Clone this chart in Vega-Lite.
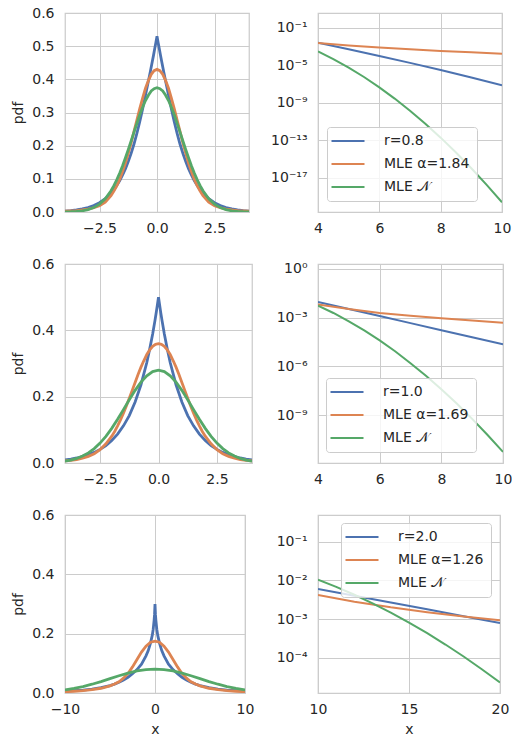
{
  "$schema": "https://vega.github.io/schema/vega-lite/v6.json",
  "padding": {"left": 11, "top": 5, "right": 0, "bottom": 0},
  "config": {
    "font": "DejaVu Sans",
    "view": {"stroke": "#cccccc", "strokeWidth": 1.25},
    "axis": {"domain": false, "ticks": false, "grid": true, "gridColor": "#cccccc", "gridWidth": 1, "labelFont": "DejaVu Sans", "labelFontSize": 14, "labelColor": "#262626", "titleFont": "DejaVu Sans", "titleFontSize": 14, "titleFontWeight": "normal", "titleColor": "#262626", "labelFlush": false, "labelOverlap": false, "labelBound": false},
    "axisX": {"labelPadding": 9, "titlePadding": 6},
    "axisY": {"labelPadding": 11, "titlePadding": 6},
    "legend": {"labelFont": "DejaVu Sans", "labelFontSize": 14, "labelColor": "#262626", "symbolType": "M-3,0H3", "symbolSize": 121, "symbolStrokeWidth": 2.2, "symbolOffset": 7, "labelOffset": 29, "padding": 7, "rowPadding": 9, "fillColor": "rgba(255,255,255,0.8)", "strokeColor": "#cccccc", "cornerRadius": 3}
  },
  "datasets": {
    "d": [
      {"p":"1L","s":"r=0.8","x":-4,"y":0.0027},{"p":"1L","s":"r=0.8","x":-3.75,"y":0.0041},{"p":"1L","s":"r=0.8","x":-3.5,"y":0.0062},{"p":"1L","s":"r=0.8","x":-3.25,"y":0.0092},{"p":"1L","s":"r=0.8","x":-3,"y":0.0135},{"p":"1L","s":"r=0.8","x":-2.75,"y":0.0195},{"p":"1L","s":"r=0.8","x":-2.5,"y":0.028},{"p":"1L","s":"r=0.8","x":-2.25,"y":0.04},{"p":"1L","s":"r=0.8","x":-2,"y":0.057},{"p":"1L","s":"r=0.8","x":-1.875,"y":0.067},{"p":"1L","s":"r=0.8","x":-1.75,"y":0.08},{"p":"1L","s":"r=0.8","x":-1.625,"y":0.094},{"p":"1L","s":"r=0.8","x":-1.5,"y":0.111},{"p":"1L","s":"r=0.8","x":-1.375,"y":0.13},{"p":"1L","s":"r=0.8","x":-1.25,"y":0.152},{"p":"1L","s":"r=0.8","x":-1.125,"y":0.177},{"p":"1L","s":"r=0.8","x":-1,"y":0.205},{"p":"1L","s":"r=0.8","x":-0.875,"y":0.237},{"p":"1L","s":"r=0.8","x":-0.75,"y":0.272},{"p":"1L","s":"r=0.8","x":-0.625,"y":0.311},{"p":"1L","s":"r=0.8","x":-0.5,"y":0.353},{"p":"1L","s":"r=0.8","x":-0.4,"y":0.386},{"p":"1L","s":"r=0.8","x":-0.3,"y":0.42},{"p":"1L","s":"r=0.8","x":-0.2,"y":0.455},{"p":"1L","s":"r=0.8","x":-0.15,"y":0.473},{"p":"1L","s":"r=0.8","x":-0.1,"y":0.492},{"p":"1L","s":"r=0.8","x":-0.05,"y":0.51},{"p":"1L","s":"r=0.8","x":0,"y":0.53},
      {"p":"1L","s":"r=0.8","x":0.05,"y":0.51},{"p":"1L","s":"r=0.8","x":0.1,"y":0.492},{"p":"1L","s":"r=0.8","x":0.15,"y":0.473},{"p":"1L","s":"r=0.8","x":0.2,"y":0.455},{"p":"1L","s":"r=0.8","x":0.3,"y":0.42},{"p":"1L","s":"r=0.8","x":0.4,"y":0.386},{"p":"1L","s":"r=0.8","x":0.5,"y":0.353},{"p":"1L","s":"r=0.8","x":0.625,"y":0.311},{"p":"1L","s":"r=0.8","x":0.75,"y":0.272},{"p":"1L","s":"r=0.8","x":0.875,"y":0.237},{"p":"1L","s":"r=0.8","x":1,"y":0.205},{"p":"1L","s":"r=0.8","x":1.125,"y":0.177},{"p":"1L","s":"r=0.8","x":1.25,"y":0.152},{"p":"1L","s":"r=0.8","x":1.375,"y":0.13},{"p":"1L","s":"r=0.8","x":1.5,"y":0.111},{"p":"1L","s":"r=0.8","x":1.625,"y":0.094},{"p":"1L","s":"r=0.8","x":1.75,"y":0.08},{"p":"1L","s":"r=0.8","x":1.875,"y":0.067},{"p":"1L","s":"r=0.8","x":2,"y":0.057},{"p":"1L","s":"r=0.8","x":2.25,"y":0.04},{"p":"1L","s":"r=0.8","x":2.5,"y":0.028},{"p":"1L","s":"r=0.8","x":2.75,"y":0.0195},{"p":"1L","s":"r=0.8","x":3,"y":0.0135},{"p":"1L","s":"r=0.8","x":3.25,"y":0.0092},{"p":"1L","s":"r=0.8","x":3.5,"y":0.0062},{"p":"1L","s":"r=0.8","x":3.75,"y":0.0041},{"p":"1L","s":"r=0.8","x":4,"y":0.0027},
      {"p":"1L","s":"MLE α=1.84","x":-4,"y":0.0026},{"p":"1L","s":"MLE α=1.84","x":-3.75,"y":0.0033},{"p":"1L","s":"MLE α=1.84","x":-3.5,"y":0.0043},{"p":"1L","s":"MLE α=1.84","x":-3.25,"y":0.006},{"p":"1L","s":"MLE α=1.84","x":-3,"y":0.0085},{"p":"1L","s":"MLE α=1.84","x":-2.75,"y":0.0128},{"p":"1L","s":"MLE α=1.84","x":-2.5,"y":0.019},{"p":"1L","s":"MLE α=1.84","x":-2.25,"y":0.03},{"p":"1L","s":"MLE α=1.84","x":-2,"y":0.049},{"p":"1L","s":"MLE α=1.84","x":-1.875,"y":0.063},{"p":"1L","s":"MLE α=1.84","x":-1.75,"y":0.079},{"p":"1L","s":"MLE α=1.84","x":-1.625,"y":0.098},{"p":"1L","s":"MLE α=1.84","x":-1.5,"y":0.121},{"p":"1L","s":"MLE α=1.84","x":-1.375,"y":0.147},{"p":"1L","s":"MLE α=1.84","x":-1.25,"y":0.177},{"p":"1L","s":"MLE α=1.84","x":-1.125,"y":0.208},{"p":"1L","s":"MLE α=1.84","x":-1,"y":0.243},{"p":"1L","s":"MLE α=1.84","x":-0.875,"y":0.277},{"p":"1L","s":"MLE α=1.84","x":-0.75,"y":0.312},{"p":"1L","s":"MLE α=1.84","x":-0.625,"y":0.343},{"p":"1L","s":"MLE α=1.84","x":-0.5,"y":0.373},{"p":"1L","s":"MLE α=1.84","x":-0.375,"y":0.396},{"p":"1L","s":"MLE α=1.84","x":-0.25,"y":0.415},{"p":"1L","s":"MLE α=1.84","x":-0.125,"y":0.426},{"p":"1L","s":"MLE α=1.84","x":0,"y":0.43},
      {"p":"1L","s":"MLE α=1.84","x":0.125,"y":0.426},{"p":"1L","s":"MLE α=1.84","x":0.25,"y":0.415},{"p":"1L","s":"MLE α=1.84","x":0.375,"y":0.396},{"p":"1L","s":"MLE α=1.84","x":0.5,"y":0.373},{"p":"1L","s":"MLE α=1.84","x":0.625,"y":0.343},{"p":"1L","s":"MLE α=1.84","x":0.75,"y":0.312},{"p":"1L","s":"MLE α=1.84","x":0.875,"y":0.277},{"p":"1L","s":"MLE α=1.84","x":1,"y":0.243},{"p":"1L","s":"MLE α=1.84","x":1.125,"y":0.208},{"p":"1L","s":"MLE α=1.84","x":1.25,"y":0.177},{"p":"1L","s":"MLE α=1.84","x":1.375,"y":0.147},{"p":"1L","s":"MLE α=1.84","x":1.5,"y":0.121},{"p":"1L","s":"MLE α=1.84","x":1.625,"y":0.098},{"p":"1L","s":"MLE α=1.84","x":1.75,"y":0.079},{"p":"1L","s":"MLE α=1.84","x":1.875,"y":0.063},{"p":"1L","s":"MLE α=1.84","x":2,"y":0.049},{"p":"1L","s":"MLE α=1.84","x":2.25,"y":0.03},{"p":"1L","s":"MLE α=1.84","x":2.5,"y":0.019},{"p":"1L","s":"MLE α=1.84","x":2.75,"y":0.0128},{"p":"1L","s":"MLE α=1.84","x":3,"y":0.0085},{"p":"1L","s":"MLE α=1.84","x":3.25,"y":0.006},{"p":"1L","s":"MLE α=1.84","x":3.5,"y":0.0043},{"p":"1L","s":"MLE α=1.84","x":3.75,"y":0.0033},{"p":"1L","s":"MLE α=1.84","x":4,"y":0.0026},
      {"p":"1L","s":"MLE 𝒩","x":-4,"y":0.00032},{"p":"1L","s":"MLE 𝒩","x":-3.75,"y":0.00075},{"p":"1L","s":"MLE 𝒩","x":-3.5,"y":0.00168},{"p":"1L","s":"MLE 𝒩","x":-3.25,"y":0.00353},{"p":"1L","s":"MLE 𝒩","x":-3,"y":0.00704},{"p":"1L","s":"MLE 𝒩","x":-2.75,"y":0.0133},{"p":"1L","s":"MLE 𝒩","x":-2.5,"y":0.0237},{"p":"1L","s":"MLE 𝒩","x":-2.25,"y":0.0401},{"p":"1L","s":"MLE 𝒩","x":-2,"y":0.0641},{"p":"1L","s":"MLE 𝒩","x":-1.875,"y":0.0794},{"p":"1L","s":"MLE 𝒩","x":-1.75,"y":0.0969},{"p":"1L","s":"MLE 𝒩","x":-1.625,"y":0.117},{"p":"1L","s":"MLE 𝒩","x":-1.5,"y":0.139},{"p":"1L","s":"MLE 𝒩","x":-1.375,"y":0.163},{"p":"1L","s":"MLE 𝒩","x":-1.25,"y":0.188},{"p":"1L","s":"MLE 𝒩","x":-1.125,"y":0.214},{"p":"1L","s":"MLE 𝒩","x":-1,"y":0.241},{"p":"1L","s":"MLE 𝒩","x":-0.875,"y":0.267},{"p":"1L","s":"MLE 𝒩","x":-0.75,"y":0.293},{"p":"1L","s":"MLE 𝒩","x":-0.625,"y":0.316},{"p":"1L","s":"MLE 𝒩","x":-0.5,"y":0.336},{"p":"1L","s":"MLE 𝒩","x":-0.375,"y":0.352},{"p":"1L","s":"MLE 𝒩","x":-0.25,"y":0.365},{"p":"1L","s":"MLE 𝒩","x":-0.125,"y":0.372},{"p":"1L","s":"MLE 𝒩","x":0,"y":0.375},
      {"p":"1L","s":"MLE 𝒩","x":0.125,"y":0.372},{"p":"1L","s":"MLE 𝒩","x":0.25,"y":0.365},{"p":"1L","s":"MLE 𝒩","x":0.375,"y":0.352},{"p":"1L","s":"MLE 𝒩","x":0.5,"y":0.336},{"p":"1L","s":"MLE 𝒩","x":0.625,"y":0.316},{"p":"1L","s":"MLE 𝒩","x":0.75,"y":0.293},{"p":"1L","s":"MLE 𝒩","x":0.875,"y":0.267},{"p":"1L","s":"MLE 𝒩","x":1,"y":0.241},{"p":"1L","s":"MLE 𝒩","x":1.125,"y":0.214},{"p":"1L","s":"MLE 𝒩","x":1.25,"y":0.188},{"p":"1L","s":"MLE 𝒩","x":1.375,"y":0.163},{"p":"1L","s":"MLE 𝒩","x":1.5,"y":0.139},{"p":"1L","s":"MLE 𝒩","x":1.625,"y":0.117},{"p":"1L","s":"MLE 𝒩","x":1.75,"y":0.0969},{"p":"1L","s":"MLE 𝒩","x":1.875,"y":0.0794},{"p":"1L","s":"MLE 𝒩","x":2,"y":0.0641},{"p":"1L","s":"MLE 𝒩","x":2.25,"y":0.0401},{"p":"1L","s":"MLE 𝒩","x":2.5,"y":0.0237},{"p":"1L","s":"MLE 𝒩","x":2.75,"y":0.0133},{"p":"1L","s":"MLE 𝒩","x":3,"y":0.00704},{"p":"1L","s":"MLE 𝒩","x":3.25,"y":0.00353},{"p":"1L","s":"MLE 𝒩","x":3.5,"y":0.00168},{"p":"1L","s":"MLE 𝒩","x":3.75,"y":0.00075},{"p":"1L","s":"MLE 𝒩","x":4,"y":0.00032},

      {"p":"1R","s":"r=0.8","x":4,"y":2.69e-3},{"p":"1R","s":"r=0.8","x":5,"y":5.37e-4},{"p":"1R","s":"r=0.8","x":6,"y":1.02e-4},{"p":"1R","s":"r=0.8","x":7,"y":1.91e-5},{"p":"1R","s":"r=0.8","x":8,"y":3.31e-6},{"p":"1R","s":"r=0.8","x":9,"y":5.25e-7},{"p":"1R","s":"r=0.8","x":10,"y":7.59e-8},
      {"p":"1R","s":"MLE α=1.84","x":4,"y":2.57e-3},{"p":"1R","s":"MLE α=1.84","x":5,"y":1.36e-3},{"p":"1R","s":"MLE α=1.84","x":6,"y":8.13e-4},{"p":"1R","s":"MLE α=1.84","x":7,"y":5.25e-4},{"p":"1R","s":"MLE α=1.84","x":8,"y":3.59e-4},{"p":"1R","s":"MLE α=1.84","x":9,"y":2.57e-4},{"p":"1R","s":"MLE α=1.84","x":10,"y":1.82e-4},
      {"p":"1R","s":"MLE 𝒩","x":4,"y":3.16e-4},{"p":"1R","s":"MLE 𝒩","x":4.5,"y":4.9e-5},{"p":"1R","s":"MLE 𝒩","x":5,"y":6.03e-6},{"p":"1R","s":"MLE 𝒩","x":5.5,"y":5.89e-7},{"p":"1R","s":"MLE 𝒩","x":6,"y":4.68e-8},{"p":"1R","s":"MLE 𝒩","x":6.5,"y":2.95e-9},{"p":"1R","s":"MLE 𝒩","x":7,"y":1.51e-10},{"p":"1R","s":"MLE 𝒩","x":7.5,"y":6.17e-12},{"p":"1R","s":"MLE 𝒩","x":8,"y":2.0e-13},{"p":"1R","s":"MLE 𝒩","x":8.5,"y":5.25e-15},{"p":"1R","s":"MLE 𝒩","x":9,"y":1.1e-16},{"p":"1R","s":"MLE 𝒩","x":9.5,"y":1.82e-18},{"p":"1R","s":"MLE 𝒩","x":10,"y":2.51e-20},

      {"p":"2L","s":"r=1.0","x":-4,"y":0.00916},{"p":"2L","s":"r=1.0","x":-3.75,"y":0.0118},{"p":"2L","s":"r=1.0","x":-3.5,"y":0.0151},{"p":"2L","s":"r=1.0","x":-3.25,"y":0.0194},{"p":"2L","s":"r=1.0","x":-3,"y":0.0249},{"p":"2L","s":"r=1.0","x":-2.75,"y":0.032},{"p":"2L","s":"r=1.0","x":-2.5,"y":0.041},{"p":"2L","s":"r=1.0","x":-2.25,"y":0.0527},{"p":"2L","s":"r=1.0","x":-2,"y":0.0677},{"p":"2L","s":"r=1.0","x":-1.75,"y":0.0869},{"p":"2L","s":"r=1.0","x":-1.5,"y":0.112},{"p":"2L","s":"r=1.0","x":-1.25,"y":0.143},{"p":"2L","s":"r=1.0","x":-1,"y":0.184},{"p":"2L","s":"r=1.0","x":-0.75,"y":0.236},{"p":"2L","s":"r=1.0","x":-0.5,"y":0.303},{"p":"2L","s":"r=1.0","x":-0.375,"y":0.344},{"p":"2L","s":"r=1.0","x":-0.25,"y":0.389},{"p":"2L","s":"r=1.0","x":-0.15,"y":0.43},{"p":"2L","s":"r=1.0","x":-0.1,"y":0.452},{"p":"2L","s":"r=1.0","x":-0.05,"y":0.476},{"p":"2L","s":"r=1.0","x":0,"y":0.5},
      {"p":"2L","s":"r=1.0","x":0.05,"y":0.476},{"p":"2L","s":"r=1.0","x":0.1,"y":0.452},{"p":"2L","s":"r=1.0","x":0.15,"y":0.43},{"p":"2L","s":"r=1.0","x":0.25,"y":0.389},{"p":"2L","s":"r=1.0","x":0.375,"y":0.344},{"p":"2L","s":"r=1.0","x":0.5,"y":0.303},{"p":"2L","s":"r=1.0","x":0.75,"y":0.236},{"p":"2L","s":"r=1.0","x":1,"y":0.184},{"p":"2L","s":"r=1.0","x":1.25,"y":0.143},{"p":"2L","s":"r=1.0","x":1.5,"y":0.112},{"p":"2L","s":"r=1.0","x":1.75,"y":0.0869},{"p":"2L","s":"r=1.0","x":2,"y":0.0677},{"p":"2L","s":"r=1.0","x":2.25,"y":0.0527},{"p":"2L","s":"r=1.0","x":2.5,"y":0.041},{"p":"2L","s":"r=1.0","x":2.75,"y":0.032},{"p":"2L","s":"r=1.0","x":3,"y":0.0249},{"p":"2L","s":"r=1.0","x":3.25,"y":0.0194},{"p":"2L","s":"r=1.0","x":3.5,"y":0.0151},{"p":"2L","s":"r=1.0","x":3.75,"y":0.0118},{"p":"2L","s":"r=1.0","x":4,"y":0.00916},
      {"p":"2L","s":"MLE α=1.69","x":-4,"y":0.0065},{"p":"2L","s":"MLE α=1.69","x":-3.75,"y":0.0083},{"p":"2L","s":"MLE α=1.69","x":-3.5,"y":0.0105},{"p":"2L","s":"MLE α=1.69","x":-3.25,"y":0.0145},{"p":"2L","s":"MLE α=1.69","x":-3,"y":0.02},{"p":"2L","s":"MLE α=1.69","x":-2.75,"y":0.028},{"p":"2L","s":"MLE α=1.69","x":-2.5,"y":0.04},{"p":"2L","s":"MLE α=1.69","x":-2.25,"y":0.058},{"p":"2L","s":"MLE α=1.69","x":-2,"y":0.081},{"p":"2L","s":"MLE α=1.69","x":-1.875,"y":0.095},{"p":"2L","s":"MLE α=1.69","x":-1.75,"y":0.112},{"p":"2L","s":"MLE α=1.69","x":-1.625,"y":0.13},{"p":"2L","s":"MLE α=1.69","x":-1.5,"y":0.15},{"p":"2L","s":"MLE α=1.69","x":-1.375,"y":0.172},{"p":"2L","s":"MLE α=1.69","x":-1.25,"y":0.195},{"p":"2L","s":"MLE α=1.69","x":-1.125,"y":0.219},{"p":"2L","s":"MLE α=1.69","x":-1,"y":0.243},{"p":"2L","s":"MLE α=1.69","x":-0.875,"y":0.267},{"p":"2L","s":"MLE α=1.69","x":-0.75,"y":0.289},{"p":"2L","s":"MLE α=1.69","x":-0.625,"y":0.309},{"p":"2L","s":"MLE α=1.69","x":-0.5,"y":0.327},{"p":"2L","s":"MLE α=1.69","x":-0.375,"y":0.341},{"p":"2L","s":"MLE α=1.69","x":-0.25,"y":0.352},{"p":"2L","s":"MLE α=1.69","x":-0.125,"y":0.358},{"p":"2L","s":"MLE α=1.69","x":0,"y":0.36},
      {"p":"2L","s":"MLE α=1.69","x":0.125,"y":0.358},{"p":"2L","s":"MLE α=1.69","x":0.25,"y":0.352},{"p":"2L","s":"MLE α=1.69","x":0.375,"y":0.341},{"p":"2L","s":"MLE α=1.69","x":0.5,"y":0.327},{"p":"2L","s":"MLE α=1.69","x":0.625,"y":0.309},{"p":"2L","s":"MLE α=1.69","x":0.75,"y":0.289},{"p":"2L","s":"MLE α=1.69","x":0.875,"y":0.267},{"p":"2L","s":"MLE α=1.69","x":1,"y":0.243},{"p":"2L","s":"MLE α=1.69","x":1.125,"y":0.219},{"p":"2L","s":"MLE α=1.69","x":1.25,"y":0.195},{"p":"2L","s":"MLE α=1.69","x":1.375,"y":0.172},{"p":"2L","s":"MLE α=1.69","x":1.5,"y":0.15},{"p":"2L","s":"MLE α=1.69","x":1.625,"y":0.13},{"p":"2L","s":"MLE α=1.69","x":1.75,"y":0.112},{"p":"2L","s":"MLE α=1.69","x":1.875,"y":0.095},{"p":"2L","s":"MLE α=1.69","x":2,"y":0.081},{"p":"2L","s":"MLE α=1.69","x":2.25,"y":0.058},{"p":"2L","s":"MLE α=1.69","x":2.5,"y":0.04},{"p":"2L","s":"MLE α=1.69","x":2.75,"y":0.028},{"p":"2L","s":"MLE α=1.69","x":3,"y":0.02},{"p":"2L","s":"MLE α=1.69","x":3.25,"y":0.0145},{"p":"2L","s":"MLE α=1.69","x":3.5,"y":0.0105},{"p":"2L","s":"MLE α=1.69","x":3.75,"y":0.0083},{"p":"2L","s":"MLE α=1.69","x":4,"y":0.0065},
      {"p":"2L","s":"MLE 𝒩","x":-4,"y":0.0054},{"p":"2L","s":"MLE 𝒩","x":-3.75,"y":0.00877},{"p":"2L","s":"MLE 𝒩","x":-3.5,"y":0.0137},{"p":"2L","s":"MLE 𝒩","x":-3.25,"y":0.0208},{"p":"2L","s":"MLE 𝒩","x":-3,"y":0.0305},{"p":"2L","s":"MLE 𝒩","x":-2.75,"y":0.0435},{"p":"2L","s":"MLE 𝒩","x":-2.5,"y":0.0601},{"p":"2L","s":"MLE 𝒩","x":-2.25,"y":0.0805},{"p":"2L","s":"MLE 𝒩","x":-2,"y":0.1045},{"p":"2L","s":"MLE 𝒩","x":-1.75,"y":0.1317},{"p":"2L","s":"MLE 𝒩","x":-1.5,"y":0.161},{"p":"2L","s":"MLE 𝒩","x":-1.25,"y":0.1906},{"p":"2L","s":"MLE 𝒩","x":-1,"y":0.219},{"p":"2L","s":"MLE 𝒩","x":-0.75,"y":0.2438},{"p":"2L","s":"MLE 𝒩","x":-0.5,"y":0.263},{"p":"2L","s":"MLE 𝒩","x":-0.25,"y":0.2757},{"p":"2L","s":"MLE 𝒩","x":0,"y":0.28},
      {"p":"2L","s":"MLE 𝒩","x":0.25,"y":0.2757},{"p":"2L","s":"MLE 𝒩","x":0.5,"y":0.263},{"p":"2L","s":"MLE 𝒩","x":0.75,"y":0.2438},{"p":"2L","s":"MLE 𝒩","x":1,"y":0.219},{"p":"2L","s":"MLE 𝒩","x":1.25,"y":0.1906},{"p":"2L","s":"MLE 𝒩","x":1.5,"y":0.161},{"p":"2L","s":"MLE 𝒩","x":1.75,"y":0.1317},{"p":"2L","s":"MLE 𝒩","x":2,"y":0.1045},{"p":"2L","s":"MLE 𝒩","x":2.25,"y":0.0805},{"p":"2L","s":"MLE 𝒩","x":2.5,"y":0.0601},{"p":"2L","s":"MLE 𝒩","x":2.75,"y":0.0435},{"p":"2L","s":"MLE 𝒩","x":3,"y":0.0305},{"p":"2L","s":"MLE 𝒩","x":3.25,"y":0.0208},{"p":"2L","s":"MLE 𝒩","x":3.5,"y":0.0137},{"p":"2L","s":"MLE 𝒩","x":3.75,"y":0.00877},{"p":"2L","s":"MLE 𝒩","x":4,"y":0.0054},

      {"p":"2R","s":"r=1.0","x":4,"y":9.16e-3},{"p":"2R","s":"r=1.0","x":5,"y":3.37e-3},{"p":"2R","s":"r=1.0","x":6,"y":1.24e-3},{"p":"2R","s":"r=1.0","x":7,"y":4.56e-4},{"p":"2R","s":"r=1.0","x":8,"y":1.68e-4},{"p":"2R","s":"r=1.0","x":9,"y":6.17e-5},{"p":"2R","s":"r=1.0","x":10,"y":2.27e-5},
      {"p":"2R","s":"MLE α=1.69","x":4,"y":6.46e-3},{"p":"2R","s":"MLE α=1.69","x":5,"y":3.31e-3},{"p":"2R","s":"MLE α=1.69","x":6,"y":1.91e-3},{"p":"2R","s":"MLE α=1.69","x":7,"y":1.29e-3},{"p":"2R","s":"MLE α=1.69","x":8,"y":9.12e-4},{"p":"2R","s":"MLE α=1.69","x":9,"y":6.61e-4},{"p":"2R","s":"MLE α=1.69","x":10,"y":4.79e-4},
      {"p":"2R","s":"MLE 𝒩","x":4,"y":5.43e-3},{"p":"2R","s":"MLE 𝒩","x":4.5,"y":1.91e-3},{"p":"2R","s":"MLE 𝒩","x":5,"y":5.89e-4},{"p":"2R","s":"MLE 𝒩","x":5.5,"y":1.62e-4},{"p":"2R","s":"MLE 𝒩","x":6,"y":3.98e-5},{"p":"2R","s":"MLE 𝒩","x":6.5,"y":8.51e-6},{"p":"2R","s":"MLE 𝒩","x":7,"y":1.58e-6},{"p":"2R","s":"MLE 𝒩","x":7.5,"y":2.69e-7},{"p":"2R","s":"MLE 𝒩","x":8,"y":3.98e-8},{"p":"2R","s":"MLE 𝒩","x":8.5,"y":5.25e-9},{"p":"2R","s":"MLE 𝒩","x":9,"y":6.03e-10},{"p":"2R","s":"MLE 𝒩","x":9.5,"y":6.17e-11},{"p":"2R","s":"MLE 𝒩","x":10,"y":5.62e-12},

      {"p":"3L","s":"r=2.0","x":-10,"y":0.006},{"p":"3L","s":"r=2.0","x":-9,"y":0.0077},{"p":"3L","s":"r=2.0","x":-8,"y":0.0098},{"p":"3L","s":"r=2.0","x":-7,"y":0.013},{"p":"3L","s":"r=2.0","x":-6,"y":0.018},{"p":"3L","s":"r=2.0","x":-5,"y":0.025},{"p":"3L","s":"r=2.0","x":-4.5,"y":0.03},{"p":"3L","s":"r=2.0","x":-4,"y":0.036},{"p":"3L","s":"r=2.0","x":-3.5,"y":0.044},{"p":"3L","s":"r=2.0","x":-3,"y":0.053},{"p":"3L","s":"r=2.0","x":-2.5,"y":0.065},{"p":"3L","s":"r=2.0","x":-2,"y":0.079},{"p":"3L","s":"r=2.0","x":-1.5,"y":0.097},{"p":"3L","s":"r=2.0","x":-1,"y":0.125},{"p":"3L","s":"r=2.0","x":-0.75,"y":0.143},{"p":"3L","s":"r=2.0","x":-0.5,"y":0.168},{"p":"3L","s":"r=2.0","x":-0.3,"y":0.195},{"p":"3L","s":"r=2.0","x":-0.2,"y":0.215},{"p":"3L","s":"r=2.0","x":-0.1,"y":0.245},{"p":"3L","s":"r=2.0","x":-0.05,"y":0.265},{"p":"3L","s":"r=2.0","x":0,"y":0.3},
      {"p":"3L","s":"r=2.0","x":0.05,"y":0.265},{"p":"3L","s":"r=2.0","x":0.1,"y":0.245},{"p":"3L","s":"r=2.0","x":0.2,"y":0.215},{"p":"3L","s":"r=2.0","x":0.3,"y":0.195},{"p":"3L","s":"r=2.0","x":0.5,"y":0.168},{"p":"3L","s":"r=2.0","x":0.75,"y":0.143},{"p":"3L","s":"r=2.0","x":1,"y":0.125},{"p":"3L","s":"r=2.0","x":1.5,"y":0.097},{"p":"3L","s":"r=2.0","x":2,"y":0.079},{"p":"3L","s":"r=2.0","x":2.5,"y":0.065},{"p":"3L","s":"r=2.0","x":3,"y":0.053},{"p":"3L","s":"r=2.0","x":3.5,"y":0.044},{"p":"3L","s":"r=2.0","x":4,"y":0.036},{"p":"3L","s":"r=2.0","x":4.5,"y":0.03},{"p":"3L","s":"r=2.0","x":5,"y":0.025},{"p":"3L","s":"r=2.0","x":6,"y":0.018},{"p":"3L","s":"r=2.0","x":7,"y":0.013},{"p":"3L","s":"r=2.0","x":8,"y":0.0098},{"p":"3L","s":"r=2.0","x":9,"y":0.0077},{"p":"3L","s":"r=2.0","x":10,"y":0.006},
      {"p":"3L","s":"MLE α=1.26","x":-10,"y":0.0042},{"p":"3L","s":"MLE α=1.26","x":-9,"y":0.0059},{"p":"3L","s":"MLE α=1.26","x":-8,"y":0.0081},{"p":"3L","s":"MLE α=1.26","x":-7,"y":0.0113},{"p":"3L","s":"MLE α=1.26","x":-6,"y":0.016},{"p":"3L","s":"MLE α=1.26","x":-5,"y":0.024},{"p":"3L","s":"MLE α=1.26","x":-4.5,"y":0.03},{"p":"3L","s":"MLE α=1.26","x":-4,"y":0.038},{"p":"3L","s":"MLE α=1.26","x":-3.5,"y":0.05},{"p":"3L","s":"MLE α=1.26","x":-3,"y":0.066},{"p":"3L","s":"MLE α=1.26","x":-2.5,"y":0.088},{"p":"3L","s":"MLE α=1.26","x":-2,"y":0.113},{"p":"3L","s":"MLE α=1.26","x":-1.5,"y":0.138},{"p":"3L","s":"MLE α=1.26","x":-1,"y":0.158},{"p":"3L","s":"MLE α=1.26","x":-0.5,"y":0.171},{"p":"3L","s":"MLE α=1.26","x":0,"y":0.175},
      {"p":"3L","s":"MLE α=1.26","x":0.5,"y":0.171},{"p":"3L","s":"MLE α=1.26","x":1,"y":0.158},{"p":"3L","s":"MLE α=1.26","x":1.5,"y":0.138},{"p":"3L","s":"MLE α=1.26","x":2,"y":0.113},{"p":"3L","s":"MLE α=1.26","x":2.5,"y":0.088},{"p":"3L","s":"MLE α=1.26","x":3,"y":0.066},{"p":"3L","s":"MLE α=1.26","x":3.5,"y":0.05},{"p":"3L","s":"MLE α=1.26","x":4,"y":0.038},{"p":"3L","s":"MLE α=1.26","x":4.5,"y":0.03},{"p":"3L","s":"MLE α=1.26","x":5,"y":0.024},{"p":"3L","s":"MLE α=1.26","x":6,"y":0.016},{"p":"3L","s":"MLE α=1.26","x":7,"y":0.0113},{"p":"3L","s":"MLE α=1.26","x":8,"y":0.0081},{"p":"3L","s":"MLE α=1.26","x":9,"y":0.0059},{"p":"3L","s":"MLE α=1.26","x":10,"y":0.0042},
      {"p":"3L","s":"MLE 𝒩","x":-10,"y":0.0105},{"p":"3L","s":"MLE 𝒩","x":-9,"y":0.0154},{"p":"3L","s":"MLE 𝒩","x":-8,"y":0.0218},{"p":"3L","s":"MLE 𝒩","x":-7,"y":0.0296},{"p":"3L","s":"MLE 𝒩","x":-6,"y":0.0386},{"p":"3L","s":"MLE 𝒩","x":-5,"y":0.0484},{"p":"3L","s":"MLE 𝒩","x":-4,"y":0.0581},{"p":"3L","s":"MLE 𝒩","x":-3,"y":0.0671},{"p":"3L","s":"MLE 𝒩","x":-2,"y":0.0743},{"p":"3L","s":"MLE 𝒩","x":-1,"y":0.079},{"p":"3L","s":"MLE 𝒩","x":0,"y":0.0806},
      {"p":"3L","s":"MLE 𝒩","x":1,"y":0.079},{"p":"3L","s":"MLE 𝒩","x":2,"y":0.0743},{"p":"3L","s":"MLE 𝒩","x":3,"y":0.0671},{"p":"3L","s":"MLE 𝒩","x":4,"y":0.0581},{"p":"3L","s":"MLE 𝒩","x":5,"y":0.0484},{"p":"3L","s":"MLE 𝒩","x":6,"y":0.0386},{"p":"3L","s":"MLE 𝒩","x":7,"y":0.0296},{"p":"3L","s":"MLE 𝒩","x":8,"y":0.0218},{"p":"3L","s":"MLE 𝒩","x":9,"y":0.0154},{"p":"3L","s":"MLE 𝒩","x":10,"y":0.0105},

      {"p":"3R","s":"r=2.0","x":10,"y":6.03e-3},{"p":"3R","s":"r=2.0","x":12,"y":4.02e-3},{"p":"3R","s":"r=2.0","x":14,"y":2.68e-3},{"p":"3R","s":"r=2.0","x":16,"y":1.79e-3},{"p":"3R","s":"r=2.0","x":18,"y":1.19e-3},{"p":"3R","s":"r=2.0","x":20,"y":7.94e-4},
      {"p":"3R","s":"MLE α=1.26","x":10,"y":4.17e-3},{"p":"3R","s":"MLE α=1.26","x":12,"y":2.81e-3},{"p":"3R","s":"MLE α=1.26","x":14,"y":2.01e-3},{"p":"3R","s":"MLE α=1.26","x":16,"y":1.51e-3},{"p":"3R","s":"MLE α=1.26","x":18,"y":1.17e-3},{"p":"3R","s":"MLE α=1.26","x":20,"y":9.33e-4},
      {"p":"3R","s":"MLE 𝒩","x":10,"y":1.04e-2},{"p":"3R","s":"MLE 𝒩","x":11,"y":6.81e-3},{"p":"3R","s":"MLE 𝒩","x":12,"y":4.26e-3},{"p":"3R","s":"MLE 𝒩","x":13,"y":2.55e-3},{"p":"3R","s":"MLE 𝒩","x":14,"y":1.47e-3},{"p":"3R","s":"MLE 𝒩","x":15,"y":8.15e-4},{"p":"3R","s":"MLE 𝒩","x":16,"y":4.33e-4},{"p":"3R","s":"MLE 𝒩","x":17,"y":2.2e-4},{"p":"3R","s":"MLE 𝒩","x":18,"y":1.08e-4},{"p":"3R","s":"MLE 𝒩","x":19,"y":5.07e-5},{"p":"3R","s":"MLE 𝒩","x":20,"y":2.29e-5}
    ]
  },
  "data": {"name": "d"},
  "columns": 2,
  "bounds": "flush",
  "spacing": {"row": 52, "column": 66},
  "resolve": {"scale": {"color": "independent", "x": "independent", "y": "independent"}, "legend": {"color": "independent"}},
  "concat": [
    {
      "width": 184, "height": 199,
      "transform": [{"filter": "datum.p == '1L'"}],
      "mark": {"type": "line", "strokeWidth": 2.8, "clip": true},
      "encoding": {
        "x": {"field": "x", "type": "quantitative", "scale": {"domain": [-4, 4], "nice": false, "zero": false}, "axis": {"values": [-2.5, 0, 2.5], "format": ".1f", "title": null}},
        "y": {"field": "y", "type": "quantitative", "scale": {"domain": [0, 0.6], "nice": false}, "axis": {"values": [0, 0.1, 0.2, 0.3, 0.4, 0.5, 0.6], "format": ".1f", "title": "pdf"}},
        "color": {"field": "s", "type": "nominal", "scale": {"domain": ["r=0.8", "MLE α=1.84", "MLE 𝒩"], "range": ["#4C72B0", "#DD8452", "#55A868"]}, "legend": null}
      }
    },
    {
      "width": 184, "height": 199,
      "transform": [{"filter": "datum.p == '1R'"}],
      "mark": {"type": "line", "strokeWidth": 2, "clip": true},
      "encoding": {
        "x": {"field": "x", "type": "quantitative", "scale": {"domain": [4, 10], "nice": false, "zero": false}, "axis": {"values": [4, 6, 8, 10], "title": null}},
        "y": {"field": "y", "type": "quantitative", "scale": {"type": "log", "domain": [2.34e-21, 3.98], "nice": false}, "axis": {"values": [1e-1, 1e-5, 1e-9, 1e-13, 1e-17], "title": null, "labelExpr": "'10' + replace(replace(replace(replace(replace(replace(replace(replace(replace(replace(replace('' + round(log(datum.value) / LN10), '-', '⁻'), regexp('0', 'g'), '⁰'), regexp('1', 'g'), '¹'), regexp('2', 'g'), '²'), regexp('3', 'g'), '³'), regexp('4', 'g'), '⁴'), regexp('5', 'g'), '⁵'), regexp('6', 'g'), '⁶'), regexp('7', 'g'), '⁷'), regexp('8', 'g'), '⁸'), regexp('9', 'g'), '⁹')"}},
        "color": {"field": "s", "type": "nominal", "scale": {"domain": ["r=0.8", "MLE α=1.84", "MLE 𝒩"], "range": ["#4C72B0", "#DD8452", "#55A868"]}, "legend": {"orient": "none", "legendX": 9, "legendY": 114, "title": null}}
      }
    },
    {
      "width": 187, "height": 199,
      "transform": [{"filter": "datum.p == '2L'"}],
      "mark": {"type": "line", "strokeWidth": 2.8, "clip": true},
      "encoding": {
        "x": {"field": "x", "type": "quantitative", "scale": {"domain": [-4, 4], "nice": false, "zero": false}, "axis": {"values": [-2.5, 0, 2.5], "format": ".1f", "title": null}},
        "y": {"field": "y", "type": "quantitative", "scale": {"domain": [0, 0.6], "nice": false}, "axis": {"values": [0, 0.2, 0.4, 0.6], "format": ".1f", "title": "pdf"}},
        "color": {"field": "s", "type": "nominal", "scale": {"domain": ["r=1.0", "MLE α=1.69", "MLE 𝒩"], "range": ["#4C72B0", "#DD8452", "#55A868"]}, "legend": null}
      }
    },
    {
      "width": 185, "height": 199,
      "transform": [{"filter": "datum.p == '2R'"}],
      "mark": {"type": "line", "strokeWidth": 2, "clip": true},
      "encoding": {
        "x": {"field": "x", "type": "quantitative", "scale": {"domain": [4, 10], "nice": false, "zero": false}, "axis": {"values": [4, 6, 8, 10], "title": null}},
        "y": {"field": "y", "type": "quantitative", "scale": {"type": "log", "domain": [1.17e-12, 1.95], "nice": false}, "axis": {"values": [1, 1e-3, 1e-6, 1e-9], "title": null, "labelExpr": "'10' + replace(replace(replace(replace(replace(replace(replace(replace(replace(replace(replace('' + round(log(datum.value) / LN10), '-', '⁻'), regexp('0', 'g'), '⁰'), regexp('1', 'g'), '¹'), regexp('2', 'g'), '²'), regexp('3', 'g'), '³'), regexp('4', 'g'), '⁴'), regexp('5', 'g'), '⁵'), regexp('6', 'g'), '⁶'), regexp('7', 'g'), '⁷'), regexp('8', 'g'), '⁸'), regexp('9', 'g'), '⁹')"}},
        "color": {"field": "s", "type": "nominal", "scale": {"domain": ["r=1.0", "MLE α=1.69", "MLE 𝒩"], "range": ["#4C72B0", "#DD8452", "#55A868"]}, "legend": {"orient": "none", "legendX": 8, "legendY": 114, "title": null}}
      }
    },
    {
      "width": 180, "height": 178,
      "transform": [{"filter": "datum.p == '3L'"}],
      "mark": {"type": "line", "strokeWidth": 2.8, "clip": true},
      "encoding": {
        "x": {"field": "x", "type": "quantitative", "scale": {"domain": [-10, 10], "nice": false, "zero": false}, "axis": {"values": [-10, 0, 10], "format": "d", "title": "x"}},
        "y": {"field": "y", "type": "quantitative", "scale": {"domain": [0, 0.6], "nice": false}, "axis": {"values": [0, 0.2, 0.4, 0.6], "format": ".1f", "title": "pdf"}},
        "color": {"field": "s", "type": "nominal", "scale": {"domain": ["r=2.0", "MLE α=1.26", "MLE 𝒩"], "range": ["#4C72B0", "#DD8452", "#55A868"]}, "legend": null}
      }
    },
    {
      "width": 182, "height": 178,
      "transform": [{"filter": "datum.p == '3R'"}],
      "mark": {"type": "line", "strokeWidth": 2, "clip": true},
      "encoding": {
        "x": {"field": "x", "type": "quantitative", "scale": {"domain": [10, 20], "nice": false, "zero": false}, "axis": {"values": [10, 15, 20], "title": "x"}},
        "y": {"field": "y", "type": "quantitative", "scale": {"type": "log", "domain": [1.23e-5, 0.49], "nice": false}, "axis": {"values": [1e-1, 1e-2, 1e-3, 1e-4], "title": null, "labelExpr": "'10' + replace(replace(replace(replace(replace(replace(replace(replace(replace(replace(replace('' + round(log(datum.value) / LN10), '-', '⁻'), regexp('0', 'g'), '⁰'), regexp('1', 'g'), '¹'), regexp('2', 'g'), '²'), regexp('3', 'g'), '³'), regexp('4', 'g'), '⁴'), regexp('5', 'g'), '⁵'), regexp('6', 'g'), '⁶'), regexp('7', 'g'), '⁷'), regexp('8', 'g'), '⁸'), regexp('9', 'g'), '⁹')"}},
        "color": {"field": "s", "type": "nominal", "scale": {"domain": ["r=2.0", "MLE α=1.26", "MLE 𝒩"], "range": ["#4C72B0", "#DD8452", "#55A868"]}, "legend": {"orient": "none", "legendX": 23, "legendY": 8, "title": null}}
      }
    }
  ]
}
